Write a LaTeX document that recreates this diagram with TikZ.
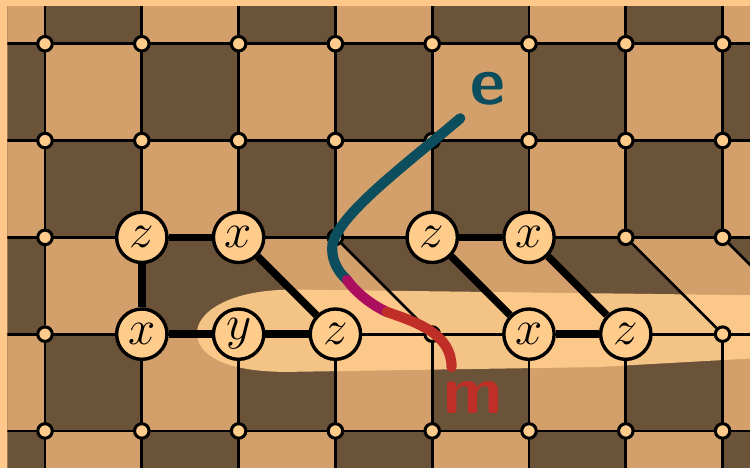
\documentclass[tikz,border=0pt]{standalone}
\usepackage{amsmath}
\usepackage{tikz}

\definecolor{boarddark}{RGB}{107,83,57}
\definecolor{boardlight}{RGB}{211,160,108}
\definecolor{framecol}{RGB}{255,200,138}
\definecolor{glow}{RGB}{255,204,140}
\definecolor{ecol}{RGB}{12,78,94}
\definecolor{midcol}{RGB}{172,14,94}
\definecolor{mcol}{RGB}{192,46,40}

\begin{document}
\begin{tikzpicture}[
		site/.style={circle, draw, line width=1pt, fill=glow, minimum size=0.52cm, inner sep=0pt, font=\fontsize{15}{17}\selectfont},
		dot/.style={circle, draw, line width=0.9pt, fill=glow, minimum size=0.15cm, inner sep=0pt},
		bond/.style={line width=2.2pt},
		lattice/.style={line width=0.8pt},
		string/.style={line width=3pt, line cap=round},
		hand/.style={font=\fontsize{20}{22}\selectfont\sffamily\bfseries, inner sep=0pt}
	]
		\fill[framecol] (-0.465,-0.382) rectangle (7.283,4.452);
		\useasboundingbox (-0.465,-0.382) rectangle (7.283,4.452);

		\begin{scope}
		\clip (-0.39,-0.382) rectangle (7.283,4.387);
		\fill[boarddark] (-0.39,-0.382) rectangle (7.283,4.387);
		\foreach \i in {-1,...,7}
			\foreach \j in {-1,0,2,3,4} {
				\pgfmathtruncatemacro{\p}{\i+\j+10}
				\ifodd\p \fill[boardlight] (\i,\j) rectangle ++(1,1); \fi
			}
		\fill[boardlight] (0,1) rectangle (1,2);
		\foreach \i in {2,4,6}
			\fill[boardlight] (\i,2) -- ++(1,0) -- ++(1,-1) -- ++(-1,0) -- cycle;

		\fill[glow, opacity=0.93] (7.5,1.40) -- (2.6,1.46)
			.. controls (1.9,1.47) and (1.55,1.22) .. (1.57,0.99)
			.. controls (1.6,0.74) and (1.95,0.61) .. (2.5,0.61)
			-- (5.7,0.66) -- (7.5,0.76) -- cycle;

		\foreach \j in {0,...,4}
			\draw[lattice] (-0.39,\j) -- (7.283,\j);
		\foreach \i in {0,...,7} {
			\draw[lattice] (\i,-0.382) -- (\i,1);
			\draw[lattice] (\i,2) -- (\i,4.387);
		}
		\coordinate (rim) at (8,1);
		\end{scope}

		\foreach \i in {0,...,7}
			\foreach \j in {0,3,4}
				\node[dot] (v\i-\j) at (\i,\j) {};
		\foreach \i/\j in {0/1,4/1,7/1,0/2,3/2,6/2,7/2}
			\node[dot] (v\i-\j) at (\i,\j) {};

		\node[site] (za) at (1,2) {$z$};
		\node[site] (xa) at (2,2) {$x$};
		\node[site] (xb) at (1,1) {$x$};
		\node[site] (ya) at (2,1) {$y$};
		\node[site] (zb) at (3,1) {$z$};
		\node[site] (zc) at (4,2) {$z$};
		\node[site] (xc) at (5,2) {$x$};
		\node[site] (xd) at (5,1) {$x$};
		\node[site] (zd) at (6,1) {$z$};

		\draw[lattice] (v0-1) -- (v0-2);
		\draw[lattice] (v3-2) -- (v4-1);
		\draw[lattice] (v6-2) -- (v7-1);
		\begin{scope}
		\clip (-0.39,-0.382) rectangle (7.283,4.387);
		\draw[lattice] (v7-2) -- (rim);
		\end{scope}

		\draw[bond] (za) -- (xa);
		\draw[bond] (za) -- (xb);
		\draw[bond] (xb) -- (ya);
		\draw[bond] (ya) -- (zb);
		\draw[bond] (xa) -- (zb);
		\draw[bond] (zc) -- (xc);
		\draw[bond] (zc) -- (xd);
		\draw[bond] (xc) -- (zd);
		\draw[bond] (xd) -- (zd);

		\draw[string, ecol] (4.29,3.23) .. controls (3.7,2.73) and (3.05,2.25) .. (2.97,1.93)
			.. controls (2.95,1.78) and (3.02,1.65) .. (3.12,1.56);
		\draw[string, midcol] (3.12,1.56) .. controls (3.22,1.42) and (3.38,1.30) .. (3.53,1.23);
		\draw[string, mcol] (3.53,1.23) .. controls (3.85,1.12) and (4.2,1.0) .. (4.2,0.66);

		\node[hand, ecol] (elabel) at (4.57,3.54) {e};
		\node[hand, mcol] (mlabel) at (4.42,0.35) {m};
	\end{tikzpicture}
\end{document}
